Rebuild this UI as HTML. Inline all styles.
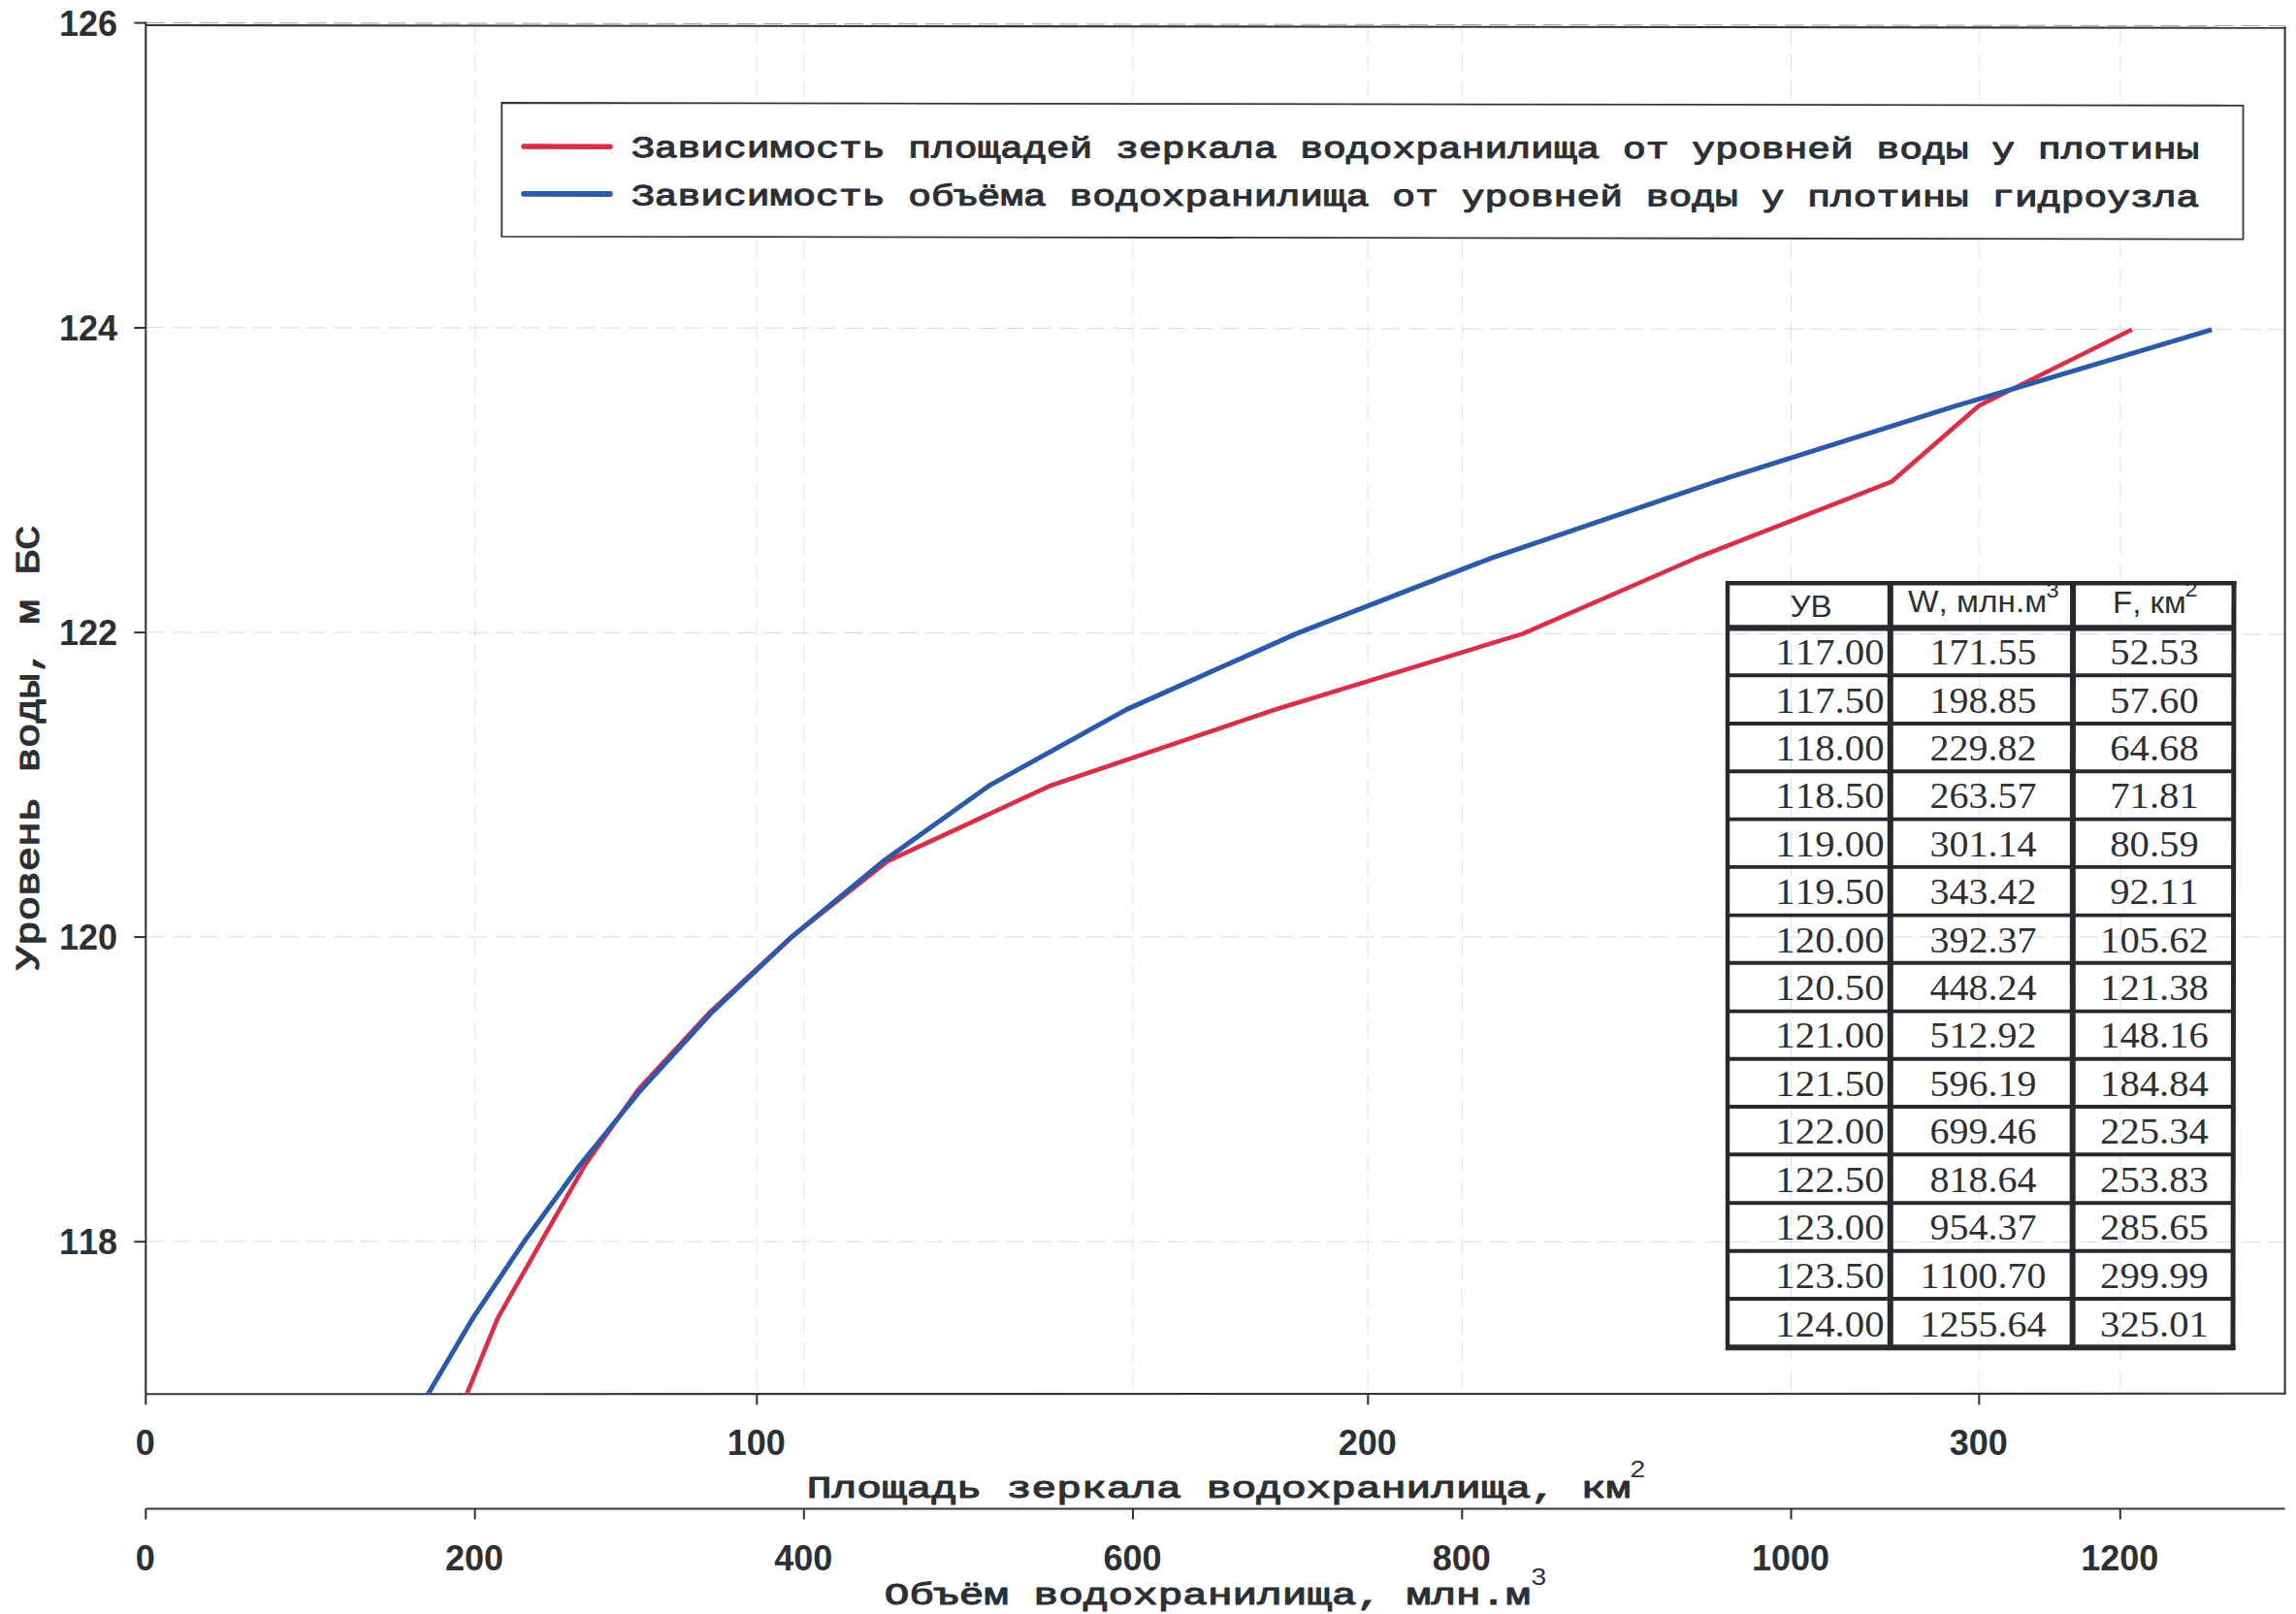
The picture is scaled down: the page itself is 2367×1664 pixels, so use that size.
<!DOCTYPE html>
<html lang="ru"><head><meta charset="utf-8"><title>Кривые площадей и объёмов водохранилища</title>
<style>html,body{margin:0;padding:0;background:#ffffff;}body{width:2367px;height:1664px;overflow:hidden;}svg{display:block;}text{font-kerning:none;}.tk{font-family:"Liberation Sans",sans-serif;font-weight:bold;font-size:36px;fill:#2c3035;}.mono{font-family:"Liberation Mono",monospace;font-weight:normal;fill:#2c3035;stroke:#2c3035;stroke-width:1.1px;stroke-linejoin:round;}.th{font-family:"Liberation Sans",sans-serif;font-size:31px;fill:#2c3035;}.td{font-family:"Liberation Serif",serif;font-size:38px;fill:#2c3035;}</style></head><body>
<svg width="2367" height="1664" viewBox="0 0 2367 1664">
<rect x="0" y="0" width="2367" height="1664" fill="#ffffff"/>
<g stroke="#d7d9e1" stroke-width="1" fill="none">
<line x1="150.3" y1="1279.9" x2="2355.6" y2="1280.4" stroke-dasharray="19.5 8.2"/>
<line x1="150.3" y1="965.8" x2="2355.6" y2="966.1" stroke-dasharray="19.5 8.2"/>
<line x1="150.3" y1="651.8" x2="2355.6" y2="654.0" stroke-dasharray="19.5 8.2"/>
<line x1="150.3" y1="337.7" x2="2355.6" y2="339.7" stroke-dasharray="19.5 8.2"/>
<line x1="150.3" y1="23.6" x2="2355.6" y2="26.6" stroke-dasharray="19.5 8.2" stroke="#9a9da5"/>
<line x1="780.3" y1="27.0" x2="780.3" y2="1437.3" stroke-dasharray="19 8.7" stroke="#dfe0e8" stroke-width="0.9"/>
<line x1="1410.3" y1="27.0" x2="1410.3" y2="1437.3" stroke-dasharray="19 8.7" stroke="#dfe0e8" stroke-width="0.9"/>
<line x1="2040.3" y1="27.0" x2="2040.3" y2="1437.3" stroke-dasharray="19 8.7" stroke="#dfe0e8" stroke-width="0.9"/>
<line x1="489.6" y1="27.0" x2="489.6" y2="1437.3" stroke-dasharray="19 8.7" stroke="#dfe0e8" stroke-width="0.9"/>
<line x1="828.8" y1="27.0" x2="828.8" y2="1437.3" stroke-dasharray="19 8.7" stroke="#dfe0e8" stroke-width="0.9"/>
<line x1="1168.0" y1="27.0" x2="1168.0" y2="1437.3" stroke-dasharray="19 8.7" stroke="#dfe0e8" stroke-width="0.9"/>
<line x1="1507.3" y1="27.0" x2="1507.3" y2="1437.3" stroke-dasharray="19 8.7" stroke="#dfe0e8" stroke-width="0.9"/>
<line x1="1846.5" y1="27.0" x2="1846.5" y2="1437.3" stroke-dasharray="19 8.7" stroke="#dfe0e8" stroke-width="0.9"/>
<line x1="2185.8" y1="27.0" x2="2185.8" y2="1437.3" stroke-dasharray="19 8.7" stroke="#dfe0e8" stroke-width="0.9"/>
</g>
<g stroke="#33373d" stroke-width="2.1" fill="none" stroke-linecap="butt">
<line x1="150.3" y1="22.5" x2="150.3" y2="1448.3"/>
<line x1="150.3" y1="1437.3" x2="2356.8" y2="1436.8"/>
<line x1="150.3" y1="26" x2="2356.8" y2="28.8"/>
<line x1="2355.6" y1="27.5" x2="2355.6" y2="1437.3"/>
<line x1="150.3" y1="1555.5" x2="2355.6" y2="1555.5"/>
<line x1="150.3" y1="1555.5" x2="150.3" y2="1566.5"/>
<line x1="138.3" y1="1280.2" x2="150.3" y2="1280.2"/>
<line x1="138.3" y1="966.1" x2="150.3" y2="966.1"/>
<line x1="138.3" y1="652.1" x2="150.3" y2="652.1"/>
<line x1="138.3" y1="338.0" x2="150.3" y2="338.0"/>
<line x1="138.3" y1="23.6" x2="150.3" y2="23.6"/>
<line x1="780.3" y1="1437.3" x2="780.3" y2="1448.3"/>
<line x1="1410.3" y1="1437.3" x2="1410.3" y2="1448.3"/>
<line x1="2040.3" y1="1437.3" x2="2040.3" y2="1448.3"/>
<line x1="489.6" y1="1555.5" x2="489.6" y2="1566.5"/>
<line x1="828.8" y1="1555.5" x2="828.8" y2="1566.5"/>
<line x1="1168.0" y1="1555.5" x2="1168.0" y2="1566.5"/>
<line x1="1507.3" y1="1555.5" x2="1507.3" y2="1566.5"/>
<line x1="1846.5" y1="1555.5" x2="1846.5" y2="1566.5"/>
<line x1="2185.8" y1="1555.5" x2="2185.8" y2="1566.5"/>
</g>
<g class="tk" text-anchor="end">
<text x="121" y="1293.1">118</text>
<text x="121" y="979.0">120</text>
<text x="121" y="665.0">122</text>
<text x="121" y="350.9">124</text>
<text x="121" y="36.6">126</text>
</g>
<g class="tk" text-anchor="middle">
<text x="149.8" y="1500.4">0</text>
<text x="779.8" y="1500.4">100</text>
<text x="1409.8" y="1500.4">200</text>
<text x="2039.8" y="1500.4">300</text>
<text x="149.8" y="1618.6">0</text>
<text x="489.1" y="1618.6">200</text>
<text x="828.3" y="1618.6">400</text>
<text x="1167.5" y="1618.6">600</text>
<text x="1506.8" y="1618.6">800</text>
<text x="1846.0" y="1618.6">1000</text>
<text x="2185.3" y="1618.6">1200</text>
</g>
<polyline fill="none" stroke="#d92e46" stroke-width="4.6" stroke-linejoin="round" stroke-linecap="butt" points="481.2,1437.3 513.2,1358.8 557.8,1280.3 602.7,1201.8 658.0,1123.2 730.6,1044.7 815.7,966.2 915.0,887.9 1083.7,809.7 1314.8,731.5 1569.9,653.4 1749.4,575.0 1949.9,496.7 2040.2,418.2 2197.9,339.8"/>
<polyline fill="none" stroke="#2a5aa9" stroke-width="5.0" stroke-linejoin="round" stroke-linecap="butt" points="441.3,1437.3 487.6,1358.8 540.1,1280.3 597.4,1201.8 661.1,1123.2 732.8,1044.7 815.9,966.2 910.6,887.9 1020.3,809.6 1161.6,731.4 1336.8,653.1 1538.9,574.8 1769.2,496.5 2017.4,418.2 2280.2,339.9"/>
<polygon points="517.3,106 2312.5,108.8 2312.5,246.6 517.3,243.8" fill="#ffffff" stroke="#33373d" stroke-width="1.8"/>
<line x1="540" y1="151" x2="629" y2="151.2" stroke="#d92e46" stroke-width="5.6" stroke-linecap="round"/>
<line x1="540" y1="199.8" x2="629" y2="200" stroke="#2a5aa9" stroke-width="5.8" stroke-linecap="round"/>
<g class="mono" font-size="31.0" transform="rotate(0.05 651 162)">
<text transform="translate(651,162) scale(1.2780,1)">Зависимость площадей зеркала водохранилища от уровней воды у плотины</text>
<text transform="translate(651,211.4) scale(1.2780,1)">Зависимость объёма водохранилища от уровней воды у плотины гидроузла</text>
</g>
<g class="mono" font-size="31.5">
<text transform="translate(831.8,1544.3) scale(1.3624,1)">Площадь зеркала водохранилища, км</text>
<text transform="translate(1680.6,1522.6) scale(1.2,1)" style="font-family:'Liberation Sans',sans-serif;font-weight:normal;stroke:none" font-size="23.5">2</text>
<text transform="translate(911.8,1654) scale(1.3556,1)">Объём водохранилища, млн.м</text>
<text transform="translate(1578.6,1634) scale(1.2,1)" style="font-family:'Liberation Sans',sans-serif;font-weight:normal;stroke:none" font-size="23.5">3</text>
</g>
<text class="mono" style="stroke-width:1.2px" font-size="34.5" transform="translate(39.8,1000.3) rotate(-90) scale(1.2319,1)">Уровень воды, м БС</text>
<g>
<g class="th">
<text transform="translate(1845.4,635.6) scale(1.07,1)">УВ</text>
<text transform="translate(1967,630.8) scale(1.077,1)">W, млн.м<tspan dx="-0.5" dy="-14.6" font-size="22">3</tspan></text>
<text transform="translate(2178,632) scale(1.065,1)">F, км<tspan dx="-1" dy="-16.8" font-size="22">2</tspan></text>
</g>
<g stroke="#26292e" fill="none">
<line x1="1781" y1="599" x2="1781" y2="1392" stroke-width="4.4"/>
<line x1="2303" y1="599" x2="2302" y2="1392" stroke-width="5"/>
<line x1="1779" y1="601.3" x2="2305.5" y2="601.3" stroke-width="4.6"/>
<line x1="1779" y1="1389.2" x2="2304.5" y2="1389.2" stroke-width="6"/>
<line x1="1779" y1="647.4" x2="2305" y2="647.4" stroke-width="6.4"/>
<line x1="1948.8" y1="599" x2="1948.8" y2="1392" stroke-width="6"/>
<line x1="2137" y1="599" x2="2136.6" y2="1392" stroke-width="6"/>
<line x1="1780" y1="696.3" x2="2303" y2="696.3" stroke-width="3.9"/>
<line x1="1780" y1="746.0" x2="2303" y2="746.0" stroke-width="3.9"/>
<line x1="1780" y1="795.3" x2="2303" y2="795.3" stroke-width="3.9"/>
<line x1="1780" y1="844.6" x2="2303" y2="844.6" stroke-width="3.9"/>
<line x1="1780" y1="893.9" x2="2303" y2="893.9" stroke-width="3.9"/>
<line x1="1780" y1="943.6" x2="2303" y2="943.6" stroke-width="3.9"/>
<line x1="1780" y1="992.8" x2="2303" y2="992.8" stroke-width="3.9"/>
<line x1="1780" y1="1042.6" x2="2303" y2="1042.6" stroke-width="3.9"/>
<line x1="1780" y1="1091.7" x2="2303" y2="1091.7" stroke-width="3.9"/>
<line x1="1780" y1="1141.0" x2="2303" y2="1141.0" stroke-width="3.9"/>
<line x1="1780" y1="1190.3" x2="2303" y2="1190.3" stroke-width="3.9"/>
<line x1="1780" y1="1240.2" x2="2303" y2="1240.2" stroke-width="3.9"/>
<line x1="1780" y1="1289.7" x2="2303" y2="1289.7" stroke-width="3.9"/>
<line x1="1780" y1="1339.0" x2="2303" y2="1339.0" stroke-width="3.9"/>
</g>
<g class="td">
<text transform="translate(1942.6,685.0) scale(1.075,1)" text-anchor="end">117.00</text><text transform="translate(2044.5,685.0) scale(1.052,1)" text-anchor="middle">171.55</text><text transform="translate(2221,685.0) scale(1.07,1)" text-anchor="middle">52.53</text>
<text transform="translate(1942.6,734.7) scale(1.075,1)" text-anchor="end">117.50</text><text transform="translate(2044.5,734.7) scale(1.052,1)" text-anchor="middle">198.85</text><text transform="translate(2221,734.7) scale(1.07,1)" text-anchor="middle">57.60</text>
<text transform="translate(1942.6,784.0) scale(1.075,1)" text-anchor="end">118.00</text><text transform="translate(2044.5,784.0) scale(1.052,1)" text-anchor="middle">229.82</text><text transform="translate(2221,784.0) scale(1.07,1)" text-anchor="middle">64.68</text>
<text transform="translate(1942.6,833.3) scale(1.075,1)" text-anchor="end">118.50</text><text transform="translate(2044.5,833.3) scale(1.052,1)" text-anchor="middle">263.57</text><text transform="translate(2221,833.3) scale(1.07,1)" text-anchor="middle">71.81</text>
<text transform="translate(1942.6,882.6) scale(1.075,1)" text-anchor="end">119.00</text><text transform="translate(2044.5,882.6) scale(1.052,1)" text-anchor="middle">301.14</text><text transform="translate(2221,882.6) scale(1.07,1)" text-anchor="middle">80.59</text>
<text transform="translate(1942.6,932.3) scale(1.075,1)" text-anchor="end">119.50</text><text transform="translate(2044.5,932.3) scale(1.052,1)" text-anchor="middle">343.42</text><text transform="translate(2221,932.3) scale(1.07,1)" text-anchor="middle">92.11</text>
<text transform="translate(1942.6,981.5) scale(1.075,1)" text-anchor="end">120.00</text><text transform="translate(2044.5,981.5) scale(1.052,1)" text-anchor="middle">392.37</text><text transform="translate(2221,981.5) scale(1.07,1)" text-anchor="middle">105.62</text>
<text transform="translate(1942.6,1031.3) scale(1.075,1)" text-anchor="end">120.50</text><text transform="translate(2044.5,1031.3) scale(1.052,1)" text-anchor="middle">448.24</text><text transform="translate(2221,1031.3) scale(1.07,1)" text-anchor="middle">121.38</text>
<text transform="translate(1942.6,1080.4) scale(1.075,1)" text-anchor="end">121.00</text><text transform="translate(2044.5,1080.4) scale(1.052,1)" text-anchor="middle">512.92</text><text transform="translate(2221,1080.4) scale(1.07,1)" text-anchor="middle">148.16</text>
<text transform="translate(1942.6,1129.7) scale(1.075,1)" text-anchor="end">121.50</text><text transform="translate(2044.5,1129.7) scale(1.052,1)" text-anchor="middle">596.19</text><text transform="translate(2221,1129.7) scale(1.07,1)" text-anchor="middle">184.84</text>
<text transform="translate(1942.6,1179.0) scale(1.075,1)" text-anchor="end">122.00</text><text transform="translate(2044.5,1179.0) scale(1.052,1)" text-anchor="middle">699.46</text><text transform="translate(2221,1179.0) scale(1.07,1)" text-anchor="middle">225.34</text>
<text transform="translate(1942.6,1228.9) scale(1.075,1)" text-anchor="end">122.50</text><text transform="translate(2044.5,1228.9) scale(1.052,1)" text-anchor="middle">818.64</text><text transform="translate(2221,1228.9) scale(1.07,1)" text-anchor="middle">253.83</text>
<text transform="translate(1942.6,1278.4) scale(1.075,1)" text-anchor="end">123.00</text><text transform="translate(2044.5,1278.4) scale(1.052,1)" text-anchor="middle">954.37</text><text transform="translate(2221,1278.4) scale(1.07,1)" text-anchor="middle">285.65</text>
<text transform="translate(1942.6,1327.7) scale(1.075,1)" text-anchor="end">123.50</text><text transform="translate(2044.5,1327.7) scale(1.052,1)" text-anchor="middle">1100.70</text><text transform="translate(2221,1327.7) scale(1.07,1)" text-anchor="middle">299.99</text>
<text transform="translate(1942.6,1377.9) scale(1.075,1)" text-anchor="end">124.00</text><text transform="translate(2044.5,1377.9) scale(1.052,1)" text-anchor="middle">1255.64</text><text transform="translate(2221,1377.9) scale(1.07,1)" text-anchor="middle">325.01</text>
</g>
</g>
</svg></body></html>
